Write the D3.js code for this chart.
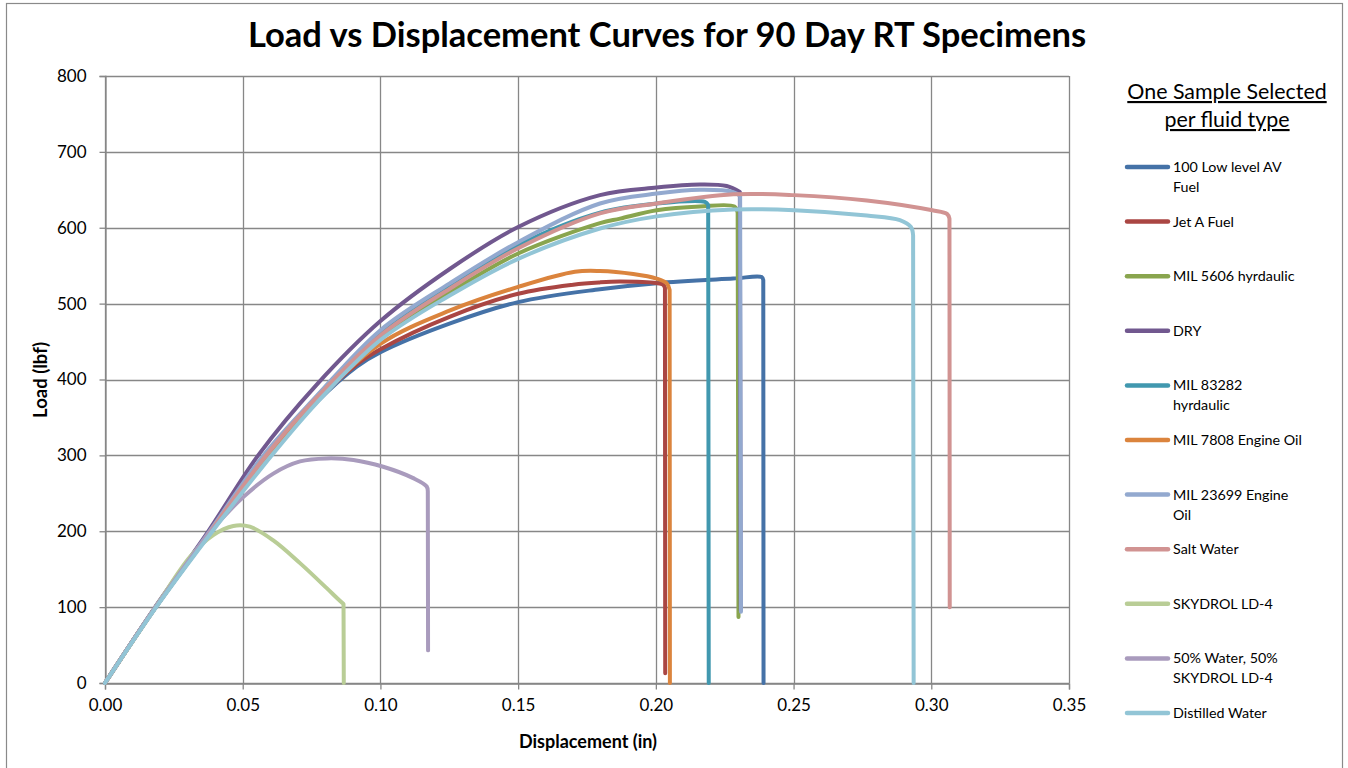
<!DOCTYPE html>
<html><head><meta charset="utf-8">
<script src="https://cdn.jsdelivr.net/npm/d3@7"></script>
<style>
html,body{margin:0;padding:0;background:#fff;}
svg{display:block;font-family:Lato, "Open Sans", sans-serif;}
</style></head>
<body><svg id="c" width="1348" height="768"></svg>
<script>
// ---- data (displacement in, load lbf); last point of each series = end of failure drop ----
const seriesNames = ["100 Low level AV Fuel","Jet A Fuel","MIL 5606 hyrdaulic","DRY","MIL 83282 hyrdaulic","MIL 7808 Engine Oil","MIL 23699 Engine Oil","Salt Water","SKYDROL LD-4","50% Water, 50% SKYDROL LD-4","Distilled Water"];
const legendLines = [["100 Low level AV","Fuel"],["Jet A Fuel"],["MIL 5606 hyrdaulic"],["DRY"],["MIL 83282","hyrdaulic"],["MIL 7808 Engine Oil"],["MIL 23699 Engine","Oil"],["Salt Water"],["SKYDROL LD-4"],["50% Water, 50%","SKYDROL LD-4"],["Distilled Water"]];
const lowAvFuel = [[0,0],[0.0184,100],[0.0385,200],[0.060,300],[0.0768,370],[0.0914,417],[0.10,436],[0.1253,474],[0.15,502],[0.1797,519],[0.2003,527],[0.2281,533],[0.2384,535],[0.2390,531],[0.2391,0]];
const jetAFuel = [[0,0],[0.0184,100],[0.0385,200],[0.060,300],[0.0768,371],[0.0914,420],[0.10,440],[0.1253,483],[0.15,513],[0.17,525],[0.1797,528],[0.187,529],[0.2003,527],[0.2026,525],[0.2033,521],[0.2034,13]];
const mil5606 = [[0,0],[0.0184,100],[0.0385,200],[0.059,300],[0.0768,374],[0.10,455],[0.1253,515],[0.15,566],[0.1797,606],[0.187,612],[0.2003,623],[0.216,628],[0.2285,628],[0.2297,620],[0.2300,87]];
const dry = [[0,0],[0.0182,100],[0.0375,200],[0.0556,300],[0.0768,393],[0.10,477],[0.1253,546],[0.15,601],[0.1797,643],[0.2003,653],[0.216,657],[0.2257,655],[0.2305,647],[0.2308,96]];
const mil83282 = [[0,0],[0.0184,100],[0.0385,200],[0.058,300],[0.0768,377],[0.10,462],[0.1253,523],[0.15,577],[0.1797,620],[0.2003,632],[0.2178,634],[0.2190,630],[0.2192,0]];
const mil7808 = [[0,0],[0.0184,100],[0.0385,200],[0.0595,300],[0.0768,372],[0.10,447],[0.1253,491],[0.15,522],[0.1706,542],[0.1797,543],[0.1918,539],[0.2003,533],[0.2039,527],[0.2050,518],[0.2051,0]];
const mil23699 = [[0,0],[0.0183,100],[0.038,200],[0.0575,300],[0.0768,378],[0.10,465],[0.1253,527],[0.15,581],[0.1797,632],[0.2003,645],[0.216,650],[0.2281,647],[0.2306,642],[0.2309,94]];
const saltWater = [[0,0],[0.0184,100],[0.0383,200],[0.0585,300],[0.0768,376],[0.10,458],[0.1253,520],[0.15,573],[0.1797,619],[0.2003,632],[0.2281,644],[0.2503,643],[0.2766,636],[0.3004,623],[0.3058,618],[0.3066,612],[0.3067,100]];
const skydrol = [[0,0],[0.0184,100],[0.0308,166],[0.0393,195],[0.0466,207],[0.0526,206],[0.0611,188],[0.0708,158],[0.0805,125],[0.0845,111],[0.0866,104],[0.0867,0]];
const water50Skydrol = [[0,0],[0.0184,100],[0.0385,200],[0.0502,245],[0.0611,276],[0.0708,292],[0.0805,296],[0.0902,294],[0.101,285],[0.1119,270],[0.1168,259],[0.1172,252],[0.1173,43]];
const distilledWater = [[0,0],[0.0186,100],[0.039,200],[0.0605,300],[0.0768,369],[0.10,452],[0.1253,511],[0.15,559],[0.1797,599],[0.2003,615],[0.2281,624],[0.2503,623],[0.2766,616],[0.2886,610],[0.2926,601],[0.2934,590],[0.2936,0]];
const seriesData = [lowAvFuel,jetAFuel,mil5606,dry,mil83282,mil7808,mil23699,saltWater,skydrol,water50Skydrol,distilledWater];
const colors = ["#4572A7","#AA4643","#89A54E","#71588F","#4198AF","#DB843D","#93A9CF","#D19392","#B9CD96","#A99BBD","#92C5D6"];
const xTicks = [0,0.05,0.10,0.15,0.20,0.25,0.30,0.35];
const yTicks = [0,100,200,300,400,500,600,700,800];

const svg = d3.select("#c");
const gridCol = "#878787";
// outer frame
svg.append("rect").attr("x",6.5).attr("y",3.5).attr("width",1336).attr("height",780)
  .attr("fill","#fff").attr("stroke","#8a8a8a").attr("stroke-width",1.2);

const x = d3.scaleLinear().domain([0,0.35]).range([105,1069]);
const y = d3.scaleLinear().domain([0,800]).range([683,76]);

// gridlines
svg.append("g").selectAll("line").data(yTicks).join("line")
  .attr("x1",x(0)).attr("x2",x(0.35)).attr("y1",d=>Math.round(y(d))+0.5).attr("y2",d=>Math.round(y(d))+0.5)
  .attr("stroke",gridCol).attr("stroke-width",1.3);
svg.append("g").selectAll("line").data(xTicks).join("line")
  .attr("y1",y(0)).attr("y2",y(800)).attr("x1",d=>Math.round(x(d))+0.5).attr("x2",d=>Math.round(x(d))+0.5)
  .attr("stroke",gridCol).attr("stroke-width",1.3);

// axes
const yAxis = d3.axisLeft(y).tickValues(yTicks).tickFormat(d3.format("d")).tickSize(6).tickPadding(13);
const gy = svg.append("g").attr("transform",`translate(${x(0)+0.5},0)`).call(yAxis);
const xAxis = d3.axisBottom(x).tickValues(xTicks).tickFormat(d3.format(".2f")).tickSize(6).tickPadding(9);
const gx = svg.append("g").attr("transform",`translate(0,${Math.round(y(0))+0.5})`).call(xAxis);
[gx,gy].forEach(g=>{
  g.select(".domain").attr("stroke",gridCol).attr("stroke-width",1.3);
  g.selectAll(".tick line").attr("stroke",gridCol).attr("stroke-width",1.3);
  g.selectAll(".tick text").attr("fill","#000").style("font-family","Lato, 'Open Sans', sans-serif").style("font-size","17px");
});

// series: smooth rising part, straight failure drop to the last point
const smooth = d3.line().x(d=>x(d[0])).y(d=>y(d[1])).curve(d3.curveCatmullRom.alpha(0.5));
const pathFor = d => {
  const last = d[d.length-1];
  return smooth(d.slice(0,-1)) + "L" + x(last[0]) + "," + y(last[1]);
};
svg.append("g").selectAll("path").data(seriesData).join("path")
  .attr("d",pathFor).attr("fill","none").attr("stroke",(d,i)=>colors[i])
  .attr("stroke-width",4).attr("stroke-linejoin","round").attr("stroke-linecap","round");

// title
svg.append("text").attr("x",667).attr("y",47).attr("text-anchor","middle")
  .style("font-size","34.5px").style("font-weight","bold").text("Load vs Displacement Curves for 90 Day RT Specimens");
// axis titles
svg.append("text").attr("x",588).attr("y",748).attr("text-anchor","middle")
  .style("font-size","18px").style("font-weight","bold").text("Displacement  (in)");
svg.append("text").attr("transform","translate(47,380) rotate(-90)").attr("text-anchor","middle")
  .style("font-size","18.5px").style("font-weight","bold").text("Load (lbf)");

// legend
const lg = svg.append("g");
["One Sample Selected","per fluid type"].forEach((t,i)=>{
  lg.append("text").attr("x",1227).attr("y",99+i*28).attr("text-anchor","middle")
    .style("font-size","21.4px").style("text-decoration","underline").text(t);
});
const legY = d3.scaleLinear().domain([0,10]).range([167,713]);
legendLines.forEach((lines,i)=>{
  const yy = legY(i);
  lg.append("line").attr("x1",1127).attr("x2",1168).attr("y1",yy).attr("y2",yy)
    .attr("stroke",colors[i]).attr("stroke-width",4.5).attr("stroke-linecap","round");
  lines.forEach((t,j)=>{
    lg.append("text").attr("x",1173).attr("y",yy+5+j*20).style("font-size","14.3px").text(t);
  });
});
</script></body></html>
